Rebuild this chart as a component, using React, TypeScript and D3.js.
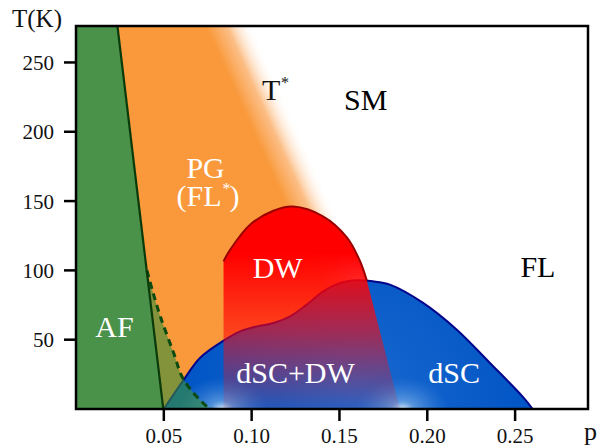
import React from "react";
import * as d3 from "d3";

const W = 598;
const H = 448;

// Axis ticks
const xTicks = [0.05, 0.1, 0.15, 0.2, 0.25];
const xTickLabels = ["0.05", "0.10", "0.15", "0.20", "0.25"];
const yTicks = [50, 100, 150, 200, 250];

// Phase boundaries (p, T)
const afLineP = [0.0236, 0.0497];
const afLineT = [276.3, 0];

const afDashP = [0.0404, 0.0435, 0.048, 0.0556, 0.0613, 0.0745, 0.0775];
const afDashT = [100, 85.5, 66.8, 40.4, 21.1, 1.9, 0];

const dwTopP = [0.084, 0.0878, 0.0991, 0.1124, 0.1235, 0.1406, 0.1541, 0.1616, 0.1656];
const dwTopT = [106.5, 115, 133, 143, 146, 139, 124, 107, 92.5];
const dwFootP = 0.1844;

const scP = [0.05, 0.0613, 0.0707, 0.084, 0.0935, 0.103, 0.1124, 0.1219, 0.1314, 0.1408, 0.1503, 0.1598, 0.169, 0.1787, 0.1974, 0.2168, 0.2355, 0.2543, 0.26];
const scT = [0, 21, 37, 49.3, 56, 59.6, 62, 66.8, 75.3, 84.8, 90.9, 92.8, 92.1, 89.7, 76.7, 57.2, 33.4, 8.9, 0];

// T* crossover (white edge of the pseudogap fade)
const tStarP = [0.1003, 0.198];
const tStarT = [276.3, 0];

const glowP = [0.083, 0.186];

const labels = [
  { text: "PG", p: 0.0738, T: 167, color: "#fff", anchor: "middle" },
  { text: "AF", p: 0.0219, T: 52, color: "#fff", anchor: "middle" },
  { text: "DW", p: 0.1148, T: 94.5, color: "#fff", anchor: "middle" },
  { text: "dSC+DW", p: 0.125, T: 19, color: "#fff", anchor: "middle" },
  { text: "dSC", p: 0.2153, T: 19, color: "#fff", anchor: "middle" },
  { text: "FL", p: 0.263, T: 95.5, color: "#000", anchor: "middle" },
  { text: "SM", p: 0.1649, T: 216, color: "#000", anchor: "middle" },
];

export default function App() {
  const x = d3.scaleLinear().domain([0, 0.2915]).range([76, 588]);
  const y = d3.scaleLinear().domain([0, 276.3]).range([409, 26]);
  const [x0, x1] = x.range();
  const [y0, y1] = y.range();

  const cr = d3.line<[number, number]>().x((d) => x(d[0])).y((d) => y(d[1])).curve(d3.curveCatmullRom.alpha(0.5));
  const lin = d3.line<[number, number]>().x((d) => x(d[0])).y((d) => y(d[1]));

  const af: [number, number][] = afLineP.map((p, i) => [p, afLineT[i]]);
  const dash: [number, number][] = afDashP.map((p, i) => [p, afDashT[i]]);
  const dwTop: [number, number][] = dwTopP.map((p, i) => [p, dwTopT[i]]);
  const sc: [number, number][] = scP.map((p, i) => [p, scT[i]]);
  const ts: [number, number][] = tStarP.map((p, i) => [p, tStarT[i]]);

  const afPath = lin([[0, 276.3], af[0], af[1], [0, 0]]) + "Z";

  const pgPath = lin([af[0], ts[0], ts[1], af[1]]) + "Z";
  const ax = x(ts[0][0]), ay = y(ts[0][1]);
  const bx = x(ts[1][0]), by = y(ts[1][1]);
  const len = Math.hypot(bx - ax, by - ay);
  const dx = (bx - ax) / len, dy = (by - ay) / len;
  const nx = dy, ny = -dx;
  const fadeW = 42;

  const scPath = cr(sc) + "Z";
  const dwPath = cr(dwTop) + "L" + x(dwFootP) + "," + y(0) + "L" + x(dwTopP[0]) + "," + y(0) + "Z";
  const dashPath = cr(dash) + "L" + x(af[1][0]) + "," + y(0) + "Z";

  const serif = "'Liberation Serif', 'DejaVu Serif', serif";
  const flX = x(0.0738);
  const flY = y(146.5);

  return (
    <svg width={W} height={H} style={{ position: "absolute", left: 0, top: 0, background: "#fff" }} fontFamily={serif}>
      <defs>
        <clipPath id="plot">
          <rect x={x0} y={y1} width={x1 - x0} height={y0 - y1} />
        </clipPath>
        <clipPath id="dome">
          <path d={scPath} />
        </clipPath>
        <linearGradient id="pgGrad" gradientUnits="userSpaceOnUse" x1={ax - nx * fadeW} y1={ay - ny * fadeW} x2={ax} y2={ay}>
          <stop offset="0" stopColor="#f9993b" stopOpacity={1} />
          <stop offset="0.45" stopColor="#fbad66" stopOpacity={0.8} />
          <stop offset="1" stopColor="#ffffff" stopOpacity={0} />
        </linearGradient>
        <linearGradient id="dwGrad" gradientUnits="userSpaceOnUse" x1={0} y1={y(112)} x2={0} y2={y(0)}>
          <stop offset="0" stopColor="#ff0000" stopOpacity={1} />
          <stop offset="0.5" stopColor="#ff0808" stopOpacity={0.6} />
          <stop offset="1" stopColor="#ff1010" stopOpacity={0.08} />
        </linearGradient>
        <radialGradient id="scGrad" gradientUnits="userSpaceOnUse" cx={x(0.16)} cy={y(10)} r={180}>
          <stop offset="0" stopColor="#1a68d0" />
          <stop offset="1" stopColor="#0054c4" />
        </radialGradient>
        <radialGradient id="glow">
          <stop offset="0" stopColor="#e8f4ff" stopOpacity={0.9} />
          <stop offset="0.25" stopColor="#9cc8f0" stopOpacity={0.5} />
          <stop offset="1" stopColor="#4f94e0" stopOpacity={0} />
        </radialGradient>
      </defs>

      <g clipPath="url(#plot)">
        <path d={pgPath} fill="url(#pgGrad)" />
        <path d={scPath} fill="url(#scGrad)" />
        <g clipPath="url(#dome)">
          {glowP.map((p, i) => (
            <ellipse key={i} cx={x(p)} cy={y(0)} rx={46} ry={32} fill="url(#glow)" />
          ))}
        </g>
        <path d={cr(sc) ?? ""} fill="none" stroke="#00058a" strokeWidth={2} />
        <path d={dwPath} fill="url(#dwGrad)" />
        <path d={cr(dwTop) ?? ""} fill="none" stroke="#9a0000" strokeWidth={2} />
        <path d={dashPath} fill="#3a8f3c" fillOpacity={0.62} />
        <path d={afPath} fill="#4a9149" />
        <path d={cr(dash) ?? ""} fill="none" stroke="#0b4a10" strokeWidth={3} strokeDasharray="7,5" />
        <path d={lin(af) ?? ""} fill="none" stroke="#0a3a0a" strokeWidth={2.2} />
      </g>

      <rect x={x0} y={y1} width={x1 - x0} height={y0 - y1} fill="none" stroke="#000" strokeWidth={2.5} />

      {xTicks.map((t, i) => (
        <g key={"x" + i}>
          <line x1={x(t)} x2={x(t)} y1={y0} y2={y0 + 12} stroke="#000" strokeWidth={2.5} />
          <text x={x(t)} y={443} textAnchor="middle" fontSize={21} fill="#111">{xTickLabels[i]}</text>
        </g>
      ))}
      {yTicks.map((t, i) => (
        <g key={"y" + i}>
          <line x1={x0 - 12} x2={x0} y1={y(t)} y2={y(t)} stroke="#000" strokeWidth={2.5} />
          <text x={54} y={y(t) + 7.5} textAnchor="end" fontSize={21} fill="#111">{t}</text>
        </g>
      ))}

      <text x={12} y={27} fontSize={25} fill="#111">T(K)</text>
      <text x={584} y={440} fontSize={26} fill="#111">p</text>

      {labels.map((l, i) => (
        <text key={i} x={x(l.p)} y={y(l.T)} textAnchor={l.anchor as any} fontSize={30} fill={l.color}>{l.text}</text>
      ))}
      <text x={flX + 16} y={flY} textAnchor="end" fontSize={30} fill="#fff">(FL</text>
      <text x={flX + 17} y={flY - 12} fontSize={16} fill="#fff">*</text>
      <text x={flX + 24} y={flY} fontSize={30} fill="#fff">)</text>
      <text x={262} y={100} fontSize={30} fill="#111">T</text>
      <text x={281} y={88} fontSize={16} fill="#111">*</text>
    </svg>
  );
}
